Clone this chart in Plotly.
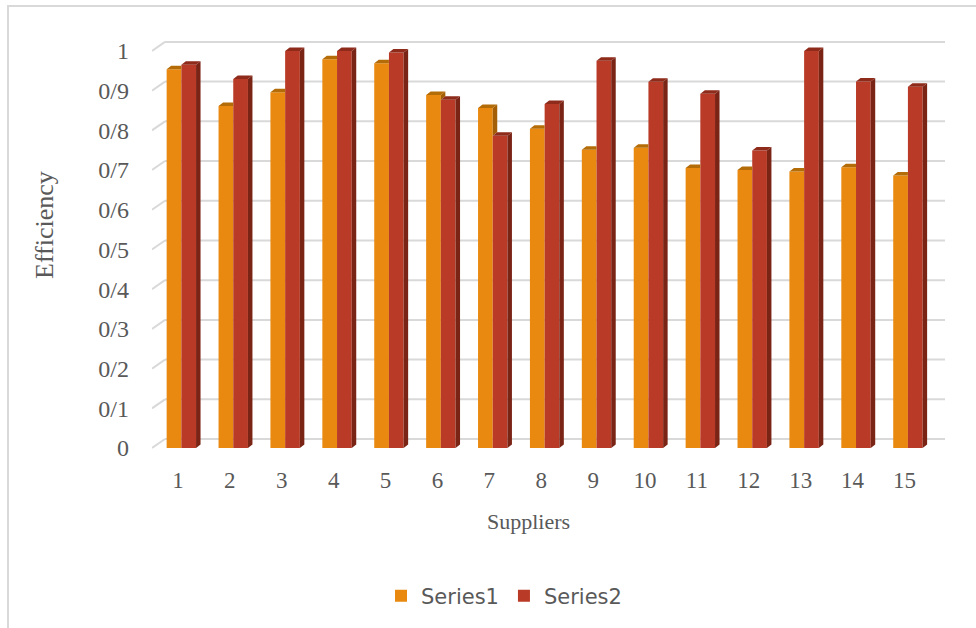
import plotly.graph_objects as go

# ---- data -------------------------------------------------------------
suppliers = list(range(1, 16))
series1 = [0.954, 0.861, 0.896, 0.979, 0.969, 0.889, 0.856, 0.804,
           0.751, 0.756, 0.705, 0.700, 0.696, 0.707, 0.686]
series2 = [0.965, 0.929, 1.000, 1.000, 0.996, 0.877, 0.786, 0.866,
           0.975, 0.922, 0.892, 0.749, 1.000, 0.923, 0.910]
y_tick_vals = [i / 10 for i in range(11)]
y_tick_text = ["0", "0/1", "0/2", "0/3", "0/4", "0/5",
               "0/6", "0/7", "0/8", "0/9", "1"]

# ---- styling / geometry ----------------------------------------------
FIG_W, FIG_H = 976, 628
M_L, M_R, M_T, M_B = 152, 31, 35, 176
X_RANGE = [0.5, 15.78]
Y_RANGE = [-0.01, 1.04]
PX_X = (FIG_W - M_L - M_R) / (X_RANGE[1] - X_RANGE[0])
PX_Y = (FIG_H - M_T - M_B) / (Y_RANGE[1] - Y_RANGE[0])

BAR_W = 14.7 / PX_X            # front face width
OFF1 = -11.3 / PX_X            # left edge of Series1 relative to category
OFF2 = OFF1 + BAR_W            # Series2 sits right next to Series1
DX = 4.5 / PX_X                # depth of side/top faces (horizontal)
DY = 3.5 / PX_Y                # depth of side/top faces (vertical)
WALL_DX = 13 / PX_X            # back wall offset
WALL_DY = 9 / PX_Y

C1_FRONT, C1_TOP, C1_SIDE = "#E9890F", "#B46C08", "#A45F06"
C2_FRONT, C2_TOP, C2_SIDE = "#B93A26", "#8E2B1B", "#7A2416"
GRID = "#D9D9D9"
TEXT = "#595959"
SERIF = "Liberation Serif, Times New Roman, serif"


def poly_trace(polys, color):
    xs, ys = [], []
    for p in polys:
        for (px, py) in p:
            xs.append(px)
            ys.append(py)
        xs.append(p[0][0]); ys.append(p[0][1])
        xs.append(None); ys.append(None)
    return go.Scatter(x=xs, y=ys, mode="lines", fill="toself",
                      fillcolor=color, line=dict(width=0, color=color),
                      hoverinfo="skip", showlegend=False)


s1_side, s1_top, s2_side, s2_top = [], [], [], []
for c, v1, v2 in zip(suppliers, series1, series2):
    x0 = c + OFF1
    x1 = x0 + BAR_W
    x2 = x1 + BAR_W
    # Series1 side: only the part rising above Series2 is visible
    if v1 > v2:
        s1_side.append([(x1, v2), (x1, v1), (x1 + DX, v1 + DY), (x1 + DX, v2 + DY)])
        s1_top.append([(x0, v1), (x1, v1), (x1 + DX, v1 + DY), (x0 + DX, v1 + DY)])
    else:
        s1_top.append([(x0, v1), (x1, v1), (x1, v1 + DY), (x0 + DX, v1 + DY)])
    s2_side.append([(x2, 0), (x2, v2), (x2 + DX, v2 + DY), (x2 + DX, DY)])
    s2_top.append([(x1, v2), (x2, v2), (x2 + DX, v2 + DY), (x1 + DX, v2 + DY)])

fig = go.Figure()
fig.add_trace(go.Bar(x=suppliers, y=series1, name="Series1", width=BAR_W,
                     offset=OFF1, marker=dict(color=C1_FRONT, line=dict(width=0))))
fig.add_trace(go.Bar(x=suppliers, y=series2, name="Series2", width=BAR_W,
                     offset=OFF2, marker=dict(color=C2_FRONT, line=dict(width=0))))
fig.add_trace(poly_trace(s1_side, C1_SIDE))
fig.add_trace(poly_trace(s1_top, C1_TOP))
fig.add_trace(poly_trace(s2_side, C2_SIDE))
fig.add_trace(poly_trace(s2_top, C2_TOP))

# back wall gridlines with the short diagonal joins on the left
shapes = []
for v in y_tick_vals:
    shapes.append(dict(type="line", xref="x", yref="y", layer="below",
                       x0=X_RANGE[0] + WALL_DX, x1=X_RANGE[1],
                       y0=v + WALL_DY, y1=v + WALL_DY,
                       line=dict(color=GRID, width=2)))
    shapes.append(dict(type="line", xref="x", yref="y", layer="below",
                       x0=X_RANGE[0], x1=X_RANGE[0] + WALL_DX,
                       y0=v, y1=v + WALL_DY,
                       line=dict(color=GRID, width=2)))

# outer frame of the chart
pw = FIG_W - M_L - M_R
ph = FIG_H - M_T - M_B
shapes.append(dict(type="rect", xref="paper", yref="paper", layer="below",
                   x0=(8 - M_L) / pw, x1=(FIG_W + 10 - M_L) / pw,
                   y0=(FIG_H - M_B - (FIG_H + 10)) / ph, y1=(FIG_H - M_B - 6) / ph,
                   line=dict(color=GRID, width=2), fillcolor="rgba(0,0,0,0)"))

fig.update_layout(
    width=FIG_W, height=FIG_H,
    margin=dict(l=M_L, r=M_R, t=M_T, b=M_B, pad=0),
    paper_bgcolor="white", plot_bgcolor="white",
    barmode="overlay",
    shapes=shapes,
    showlegend=True,
    legend=dict(orientation="h", x=(504 - M_L) / pw, xanchor="center",
                y=(FIG_H - M_B - 596) / ph, yanchor="middle",
                font=dict(family="DejaVu Sans, sans-serif", size=21, color=TEXT),
                itemwidth=30, traceorder="normal"),
    xaxis=dict(range=X_RANGE, tickvals=suppliers,
               ticktext=[str(s) for s in suppliers],
               showgrid=False, zeroline=False, showline=False,
               ticks="", ticklabelstandoff=12,
               tickfont=dict(family=SERIF, size=23, color=TEXT)),
    yaxis=dict(range=Y_RANGE, tickvals=y_tick_vals, ticktext=y_tick_text,
               showgrid=False, zeroline=False, showline=False,
               ticks="", ticklabelstandoff=22,
               tickfont=dict(family=SERIF, size=24, color=TEXT)),
    annotations=[
        dict(text="Suppliers", xref="paper", yref="paper",
             x=(528 - M_L) / pw, y=(FIG_H - M_B - 521) / ph,
             xanchor="center", yanchor="middle", showarrow=False,
             font=dict(family=SERIF, size=22, color=TEXT)),
        dict(text="Efficiency", xref="paper", yref="paper",
             x=(44 - M_L) / pw, y=(FIG_H - M_B - 225) / ph,
             xanchor="center", yanchor="middle", showarrow=False,
             textangle=-90,
             font=dict(family=SERIF, size=26, color=TEXT)),
    ],
)

fig.write_html("out.html")
